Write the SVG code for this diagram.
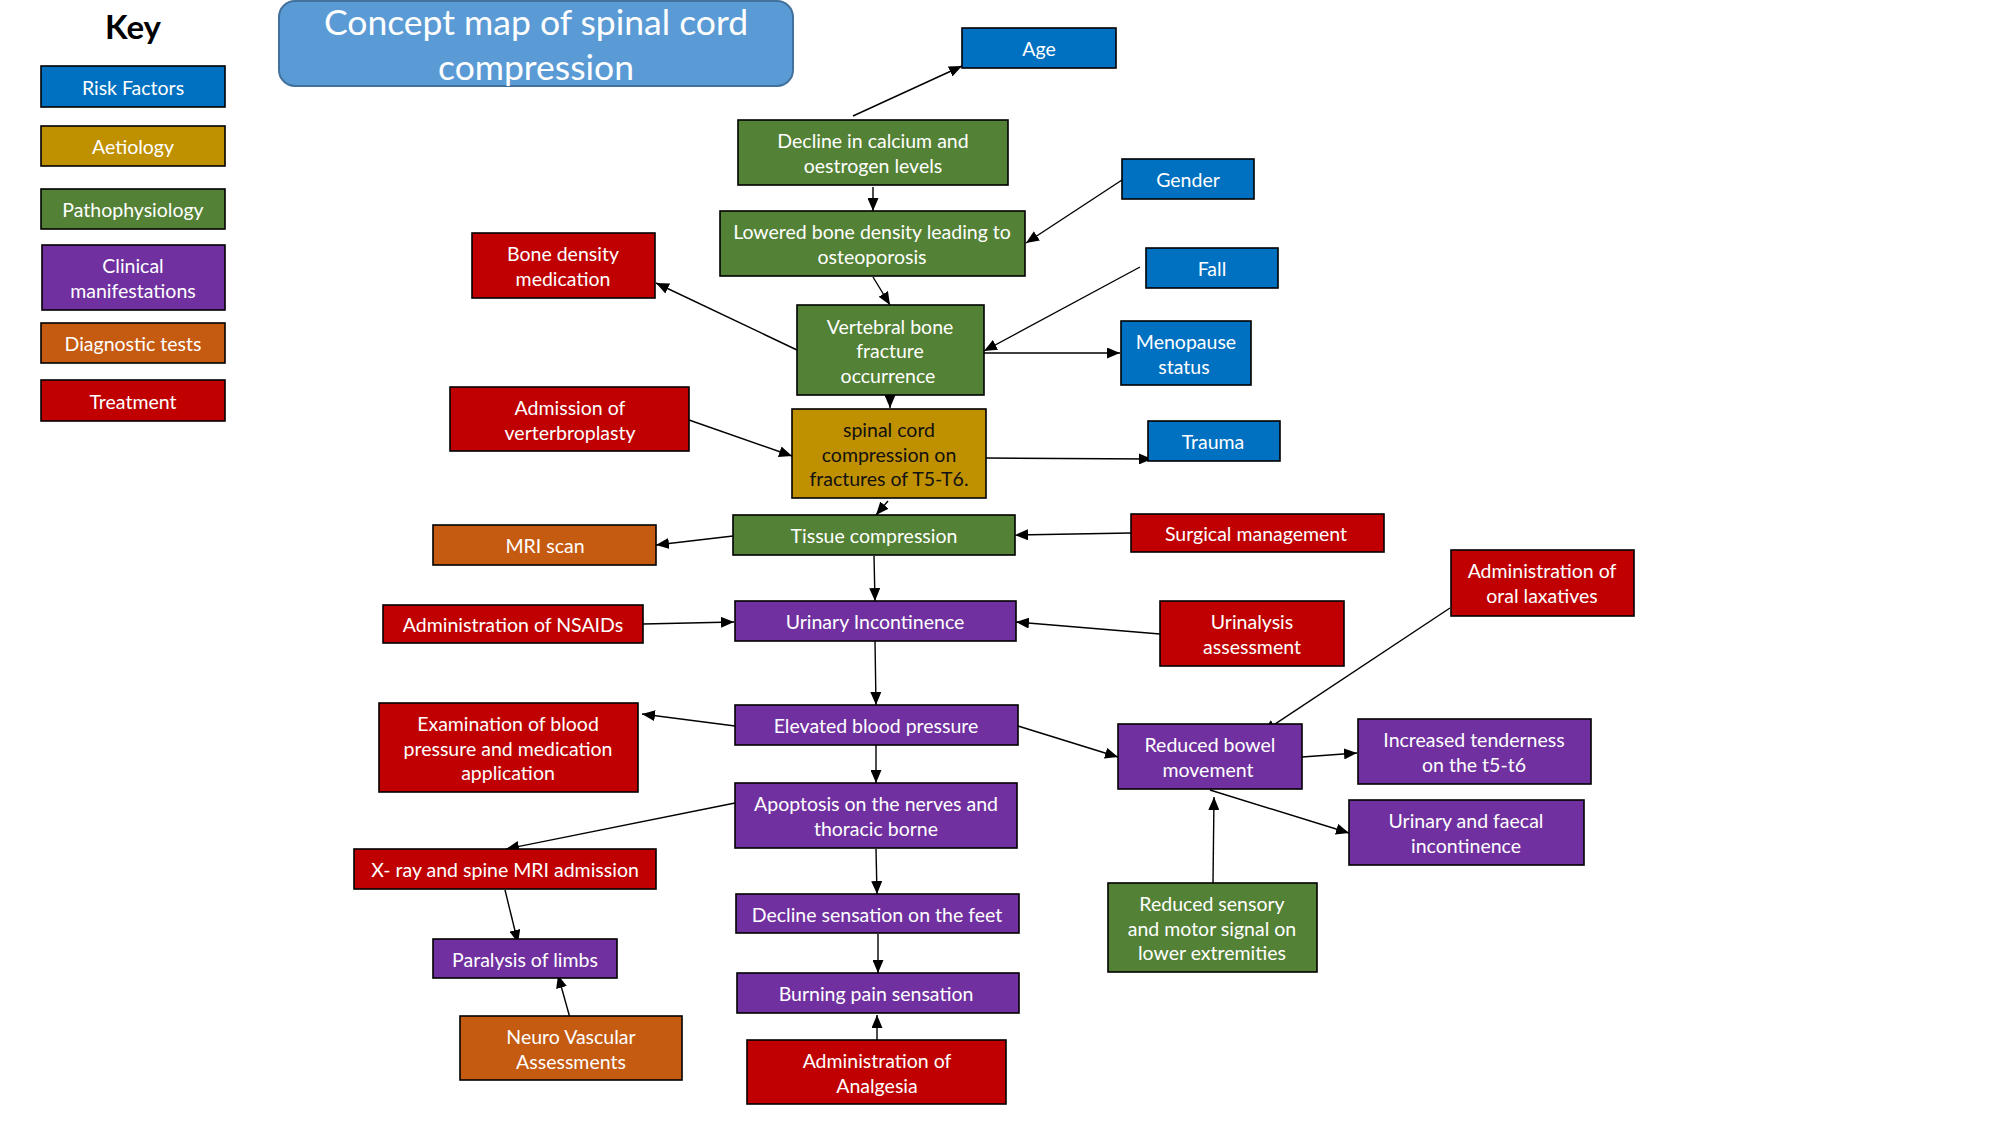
<svg xmlns="http://www.w3.org/2000/svg" width="2001" height="1125" viewBox="0 0 2001 1125">
<defs>
<marker id="ah" markerUnits="userSpaceOnUse" markerWidth="13" markerHeight="11" refX="13" refY="5.5" orient="auto">
<path d="M0,0 L13,5.5 L0,11 z" fill="#000"/>
</marker>
<style>
.n rect{stroke:#000;stroke-width:1.6}
.rf{fill:#0070c0}.ae{fill:#bf9000}.pp{fill:#538135}.cm{fill:#7030a0}.dt{fill:#c55a11}.tr{fill:#c00000}
text{font-family:Lato,"Noto Sans",sans-serif;font-size:19.5px;fill:#fff;text-anchor:middle}
.dk{fill:#111}
.c path{stroke:#000;stroke-width:1.4;fill:none;marker-end:url(#ah)}
</style>
</defs>
<rect width="2001" height="1125" fill="#fff"/>
<g id="key">
<text x="133" y="39" style="font-size:33px;font-weight:bold;fill:#000">Key</text>
<g id="k-risk" class="n"><rect class="rf" x="41" y="66" width="184" height="41"/><text x="133" y="94.5">Risk Factors</text></g>
<g id="k-aet" class="n"><rect class="ae" x="41" y="126" width="184" height="40"/><text x="133" y="154">Aetiology</text></g>
<g id="k-path" class="n"><rect class="pp" x="41" y="189" width="184" height="40"/><text x="133" y="217">Pathophysiology</text></g>
<g id="k-clin" class="n"><rect class="cm" x="42" y="245" width="183" height="65"/><text x="133" y="273">Clinical</text><text x="133" y="297.5">manifestations</text></g>
<g id="k-diag" class="n"><rect class="dt" x="41" y="323" width="184" height="40"/><text x="133" y="351">Diagnostic tests</text></g>
<g id="k-treat" class="n"><rect class="tr" x="41" y="380" width="184" height="41"/><text x="133" y="408.5">Treatment</text></g>
</g>
<g id="title">
<rect x="279" y="1" width="514" height="85" rx="16" fill="#5b9bd5" stroke="#41719c" stroke-width="2"/>
<text x="536" y="35" style="font-size:35.5px">Concept map of spinal cord</text>
<text x="536" y="79.5" style="font-size:35.5px">compression</text>
</g>
<g id="connectors" class="c">
<path d="M853,116 L962,66"/>
<path d="M873,187 L873,211"/>
<path d="M1122,180 L1026,243"/>
<path d="M873,277 L890,305"/>
<path d="M1140,267 L984,351"/>
<path d="M951,353 L1120,353"/>
<path d="M797,350 L656,283"/>
<path d="M890,396 L890,408"/>
<path d="M689,420 L792,456"/>
<path d="M986,458 L1152,459"/>
<path d="M888,501 L876,515"/>
<path d="M1131,533 L1015,535"/>
<path d="M733,536 L656,545"/>
<path d="M874,556 L875,601"/>
<path d="M643,624 L734,622"/>
<path d="M1160,634 L1016,622"/>
<path d="M875,641 L876,705"/>
<path d="M735,726 L642,714"/>
<path d="M1018,726 L1118,757"/>
<path d="M1450,608 L1263,732"/>
<path d="M1302,757 L1357,753"/>
<path d="M1210,790 L1349,833"/>
<path d="M1213,883 L1214,797"/>
<path d="M876,745 L876,783"/>
<path d="M735,803 L506,849"/>
<path d="M505,890 L518,943"/>
<path d="M570,1018 L558,975"/>
<path d="M876,849 L877,894"/>
<path d="M878,934 L878,973"/>
<path d="M877,1040 L877,1015"/>
</g>
<g id="age" class="n"><rect class="rf" x="962" y="28" width="154" height="40"/><text x="1039" y="56">Age</text></g>
<g id="decline-calcium" class="n"><rect class="pp" x="738" y="120" width="270" height="65"/><text x="873" y="148">Decline in calcium and</text><text x="873" y="172.5">oestrogen levels</text></g>
<g id="gender" class="n"><rect class="rf" x="1122" y="159" width="132" height="40"/><text x="1188" y="187">Gender</text></g>
<g id="lowered-bone" class="n"><rect class="pp" x="720" y="211" width="305" height="65"/><text x="872" y="239">Lowered bone density leading to</text><text x="872" y="263.5">osteoporosis</text></g>
<g id="bone-med" class="n"><rect class="tr" x="472" y="233" width="183" height="65"/><text x="563" y="261">Bone density</text><text x="563" y="285.5">medication</text></g>
<g id="fall" class="n"><rect class="rf" x="1146" y="248" width="132" height="40"/><text x="1212" y="276">Fall</text></g>
<g id="vertebral" class="n"><rect class="pp" x="797" y="305" width="187" height="90"/><text x="890" y="333.5">Vertebral bone</text><text x="890" y="358">fracture</text><text x="888" y="382.5">occurrence</text></g>
<g id="menopause" class="n"><rect class="rf" x="1121" y="321" width="130" height="64"/><text x="1186" y="349">Menopause</text><text x="1184" y="373.5">status</text></g>
<g id="verterbroplasty" class="n"><rect class="tr" x="450" y="387" width="239" height="64"/><text x="570" y="415">Admission of</text><text x="570" y="439.5">verterbroplasty</text></g>
<g id="spinal-cord" class="n"><rect class="ae" x="792" y="409" width="194" height="89"/><text class="dk" x="889" y="437">spinal cord</text><text class="dk" x="889" y="461.5">compression on</text><text class="dk" x="889" y="486">fractures of T5-T6.</text></g>
<g id="trauma" class="n"><rect class="rf" x="1148" y="421" width="132" height="40"/><text x="1213" y="449">Trauma</text></g>
<g id="surgical" class="n"><rect class="tr" x="1131" y="514" width="253" height="38"/><text x="1256" y="541">Surgical management</text></g>
<g id="tissue" class="n"><rect class="pp" x="733" y="515" width="282" height="40"/><text x="874" y="543">Tissue compression</text></g>
<g id="mri" class="n"><rect class="dt" x="433" y="525" width="223" height="40"/><text x="545" y="553">MRI scan</text></g>
<g id="laxatives" class="n"><rect class="tr" x="1451" y="550" width="183" height="66"/><text x="1542" y="578">Administration of</text><text x="1542" y="602.5">oral laxatives</text></g>
<g id="urinary-inc" class="n"><rect class="cm" x="735" y="601" width="281" height="40"/><text x="875" y="629">Urinary Incontinence</text></g>
<g id="urinalysis" class="n"><rect class="tr" x="1160" y="601" width="184" height="65"/><text x="1252" y="629">Urinalysis</text><text x="1252" y="653.5">assessment</text></g>
<g id="nsaids" class="n"><rect class="tr" x="383" y="605" width="260" height="38"/><text x="513" y="632">Administration of NSAIDs</text></g>
<g id="exam-bp" class="n"><rect class="tr" x="379" y="703" width="259" height="89"/><text x="508" y="731">Examination of blood</text><text x="508" y="755.5">pressure and medication</text><text x="508" y="780">application</text></g>
<g id="elevated-bp" class="n"><rect class="cm" x="735" y="705" width="283" height="40"/><text x="876" y="733">Elevated blood pressure</text></g>
<g id="tenderness" class="n"><rect class="cm" x="1358" y="719" width="233" height="65"/><text x="1474" y="747">Increased tenderness</text><text x="1474" y="771.5">on the t5-t6</text></g>
<g id="reduced-bowel" class="n"><rect class="cm" x="1118" y="724" width="184" height="65"/><text x="1210" y="752">Reduced bowel</text><text x="1208" y="776.5">movement</text></g>
<g id="apoptosis" class="n"><rect class="cm" x="735" y="783" width="282" height="65"/><text x="876" y="811">Apoptosis on the nerves and</text><text x="876" y="835.5">thoracic borne</text></g>
<g id="urinary-faecal" class="n"><rect class="cm" x="1349" y="800" width="235" height="65"/><text x="1466" y="828">Urinary and faecal</text><text x="1466" y="852.5">incontinence</text></g>
<g id="xray" class="n"><rect class="tr" x="354" y="849" width="302" height="40"/><text x="505" y="877">X- ray and spine MRI admission</text></g>
<g id="reduced-sensory" class="n"><rect class="pp" x="1108" y="883" width="209" height="89"/><text x="1212" y="911">Reduced sensory</text><text x="1212" y="935.5">and motor signal on</text><text x="1212" y="960">lower extremities</text></g>
<g id="decline-sensation" class="n"><rect class="cm" x="736" y="894" width="283" height="39"/><text x="877" y="921.5">Decline sensation on the feet</text></g>
<g id="paralysis" class="n"><rect class="cm" x="433" y="939" width="184" height="39"/><text x="525" y="966.5">Paralysis of limbs</text></g>
<g id="burning" class="n"><rect class="cm" x="737" y="973" width="282" height="40"/><text x="876" y="1001">Burning pain sensation</text></g>
<g id="neuro-vascular" class="n"><rect class="dt" x="460" y="1016" width="222" height="64"/><text x="571" y="1044">Neuro Vascular</text><text x="571" y="1068.5">Assessments</text></g>
<g id="analgesia" class="n"><rect class="tr" x="747" y="1040" width="259" height="64"/><text x="877" y="1068">Administration of</text><text x="877" y="1092.5">Analgesia</text></g>
</svg>
